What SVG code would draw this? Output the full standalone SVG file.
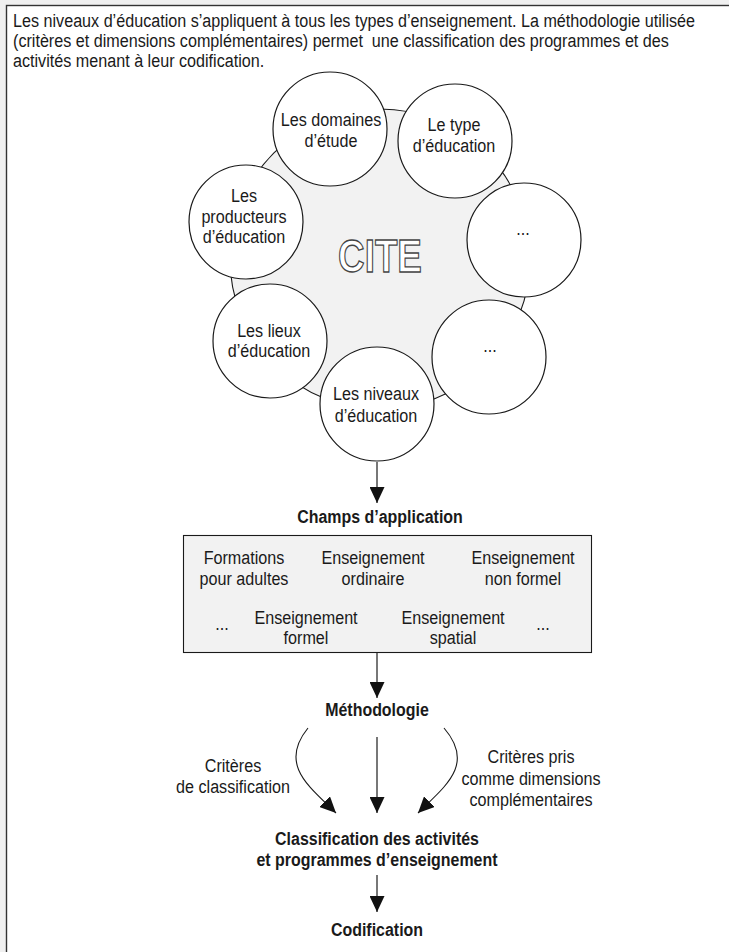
<svg xmlns="http://www.w3.org/2000/svg" width="729" height="952" viewBox="0 0 729 952">
<style>
.t{font-family:"Liberation Sans",Arial,sans-serif;font-size:19px;fill:#1a1a1a}
.b{font-weight:bold}
.m{text-anchor:middle}
.c{fill:#fff;stroke:#1a1a1a;stroke-width:1.2}
.g{stroke:#555;stroke-width:1.6;fill:none}
.k{stroke:#1a1a1a;stroke-width:1.1;fill:none}
</style>
<defs>
<marker id="ah" viewBox="0 0 16 15" markerWidth="16" markerHeight="15" refX="16" refY="7.5" orient="auto" markerUnits="userSpaceOnUse">
<path d="M0,0 L16,7.5 L0,15 z" fill="#111"/>
</marker>
</defs>
<rect x="0" y="0" width="729" height="952" fill="#f0f0f0"/>
<rect x="6.5" y="5.5" width="800" height="1000" fill="#fff" stroke="#333" stroke-width="1.4"/>

<g id="intro">
<text class="t" transform="translate(13,0) scale(0.85,1)" xml:space="preserve"><tspan x="0" y="27">Les niveaux d’éducation s’appliquent à tous les types d’enseignement. La méthodologie utilisée</tspan><tspan x="0" y="47">(critères et dimensions complémentaires) permet  une classification des programmes et des</tspan><tspan x="0" y="67">activités menant à leur codification.</tspan></text>
</g>

<g id="cite">
<circle cx="380" cy="259" r="150" fill="#f2f2f2" stroke="#1a1a1a" stroke-width="1.1"/>
<text transform="translate(380,272) scale(0.8,1)" text-anchor="middle" font-family="Liberation Sans,Arial,sans-serif" font-weight="bold" font-size="46" fill="#fff" stroke="#444" stroke-width="1.3">CITE</text>
</g>

<g id="domaines">
<circle class="c" cx="330" cy="129" r="57"/>
<text class="t m" transform="translate(331,0) scale(0.85,1)"><tspan x="0" y="126">Les domaines</tspan><tspan x="0" y="147">d’étude</tspan></text>
</g>
<g id="type">
<circle class="c" cx="455" cy="141" r="57"/>
<text class="t m" transform="translate(454,0) scale(0.85,1)"><tspan x="0" y="131">Le type</tspan><tspan x="0" y="152">d’éducation</tspan></text>
</g>
<g id="producteurs">
<circle class="c" cx="246" cy="222" r="57"/>
<text class="t m" transform="translate(244,0) scale(0.85,1)"><tspan x="0" y="202">Les</tspan><tspan x="0" y="223">producteurs</tspan><tspan x="0" y="243">d’éducation</tspan></text>
</g>
<g id="autre1">
<circle class="c" cx="524" cy="240" r="57"/>
<text class="t m" transform="translate(523,235) scale(0.85,1)">...</text>
</g>
<g id="lieux">
<circle class="c" cx="270" cy="341" r="57"/>
<text class="t m" transform="translate(269,0) scale(0.85,1)"><tspan x="0" y="337">Les lieux</tspan><tspan x="0" y="357">d’éducation</tspan></text>
</g>
<g id="autre2">
<circle class="c" cx="489" cy="357" r="57"/>
<text class="t m" transform="translate(490,352) scale(0.85,1)">...</text>
</g>
<g id="niveaux">
<circle class="c" cx="377" cy="404" r="57"/>
<text class="t m" transform="translate(376,0) scale(0.85,1)"><tspan x="0" y="400">Les niveaux</tspan><tspan x="0" y="422">d’éducation</tspan></text>
</g>

<g id="champs">
<text class="t b m" transform="translate(380,523) scale(0.84,1)">Champs d’application</text>
<rect x="183.5" y="535.5" width="408" height="117" fill="#f2f2f2" stroke="#1a1a1a" stroke-width="1.1"/>
<text class="t m" transform="translate(244,0) scale(0.85,1)"><tspan x="0" y="564">Formations</tspan><tspan x="0" y="585">pour adultes</tspan></text>
<text class="t m" transform="translate(373,0) scale(0.85,1)"><tspan x="0" y="564">Enseignement</tspan><tspan x="0" y="585">ordinaire</tspan></text>
<text class="t m" transform="translate(523,0) scale(0.85,1)"><tspan x="0" y="564">Enseignement</tspan><tspan x="0" y="585">non formel</tspan></text>
<text class="t m" transform="translate(222,630) scale(0.85,1)">...</text>
<text class="t m" transform="translate(306,0) scale(0.85,1)"><tspan x="0" y="624">Enseignement</tspan><tspan x="0" y="644">formel</tspan></text>
<text class="t m" transform="translate(453,0) scale(0.85,1)"><tspan x="0" y="624">Enseignement</tspan><tspan x="0" y="644">spatial</tspan></text>
<text class="t m" transform="translate(543,630) scale(0.85,1)">...</text>
</g>

<g id="methodologie">
<text class="t b m" transform="translate(377,716) scale(0.84,1)">Méthodologie</text>
</g>

<g id="criteres-classification">
<text class="t m" transform="translate(233,0) scale(0.85,1)"><tspan x="0" y="772">Critères</tspan><tspan x="0" y="793">de classification</tspan></text>
</g>
<g id="criteres-dimensions">
<text class="t m" transform="translate(531,0) scale(0.85,1)"><tspan x="0" y="763">Critères pris</tspan><tspan x="0" y="785">comme dimensions</tspan><tspan x="0" y="806">complémentaires</tspan></text>
</g>

<g id="classification">
<text class="t b m" transform="translate(377,0) scale(0.84,1)"><tspan x="0" y="845">Classification des activités</tspan><tspan x="0" y="866">et programmes d’enseignement</tspan></text>
</g>

<g id="codification">
<text class="t b m" transform="translate(377,936) scale(0.84,1)">Codification</text>
</g>

<g id="connectors">
<line class="g" x1="377" y1="462" x2="377" y2="503" marker-end="url(#ah)"/>
<line class="g" x1="377" y1="653" x2="377" y2="698" marker-end="url(#ah)"/>
<line class="g" x1="377" y1="737" x2="377" y2="813" marker-end="url(#ah)"/>
<path class="k" d="M308,728 C278,765 310,787 336,813" marker-end="url(#ah)"/>
<path class="k" d="M444,728 C476,765 444,787 418,813" marker-end="url(#ah)"/>
<line class="g" x1="377" y1="875" x2="377" y2="912" marker-end="url(#ah)"/>
</g>
</svg>
